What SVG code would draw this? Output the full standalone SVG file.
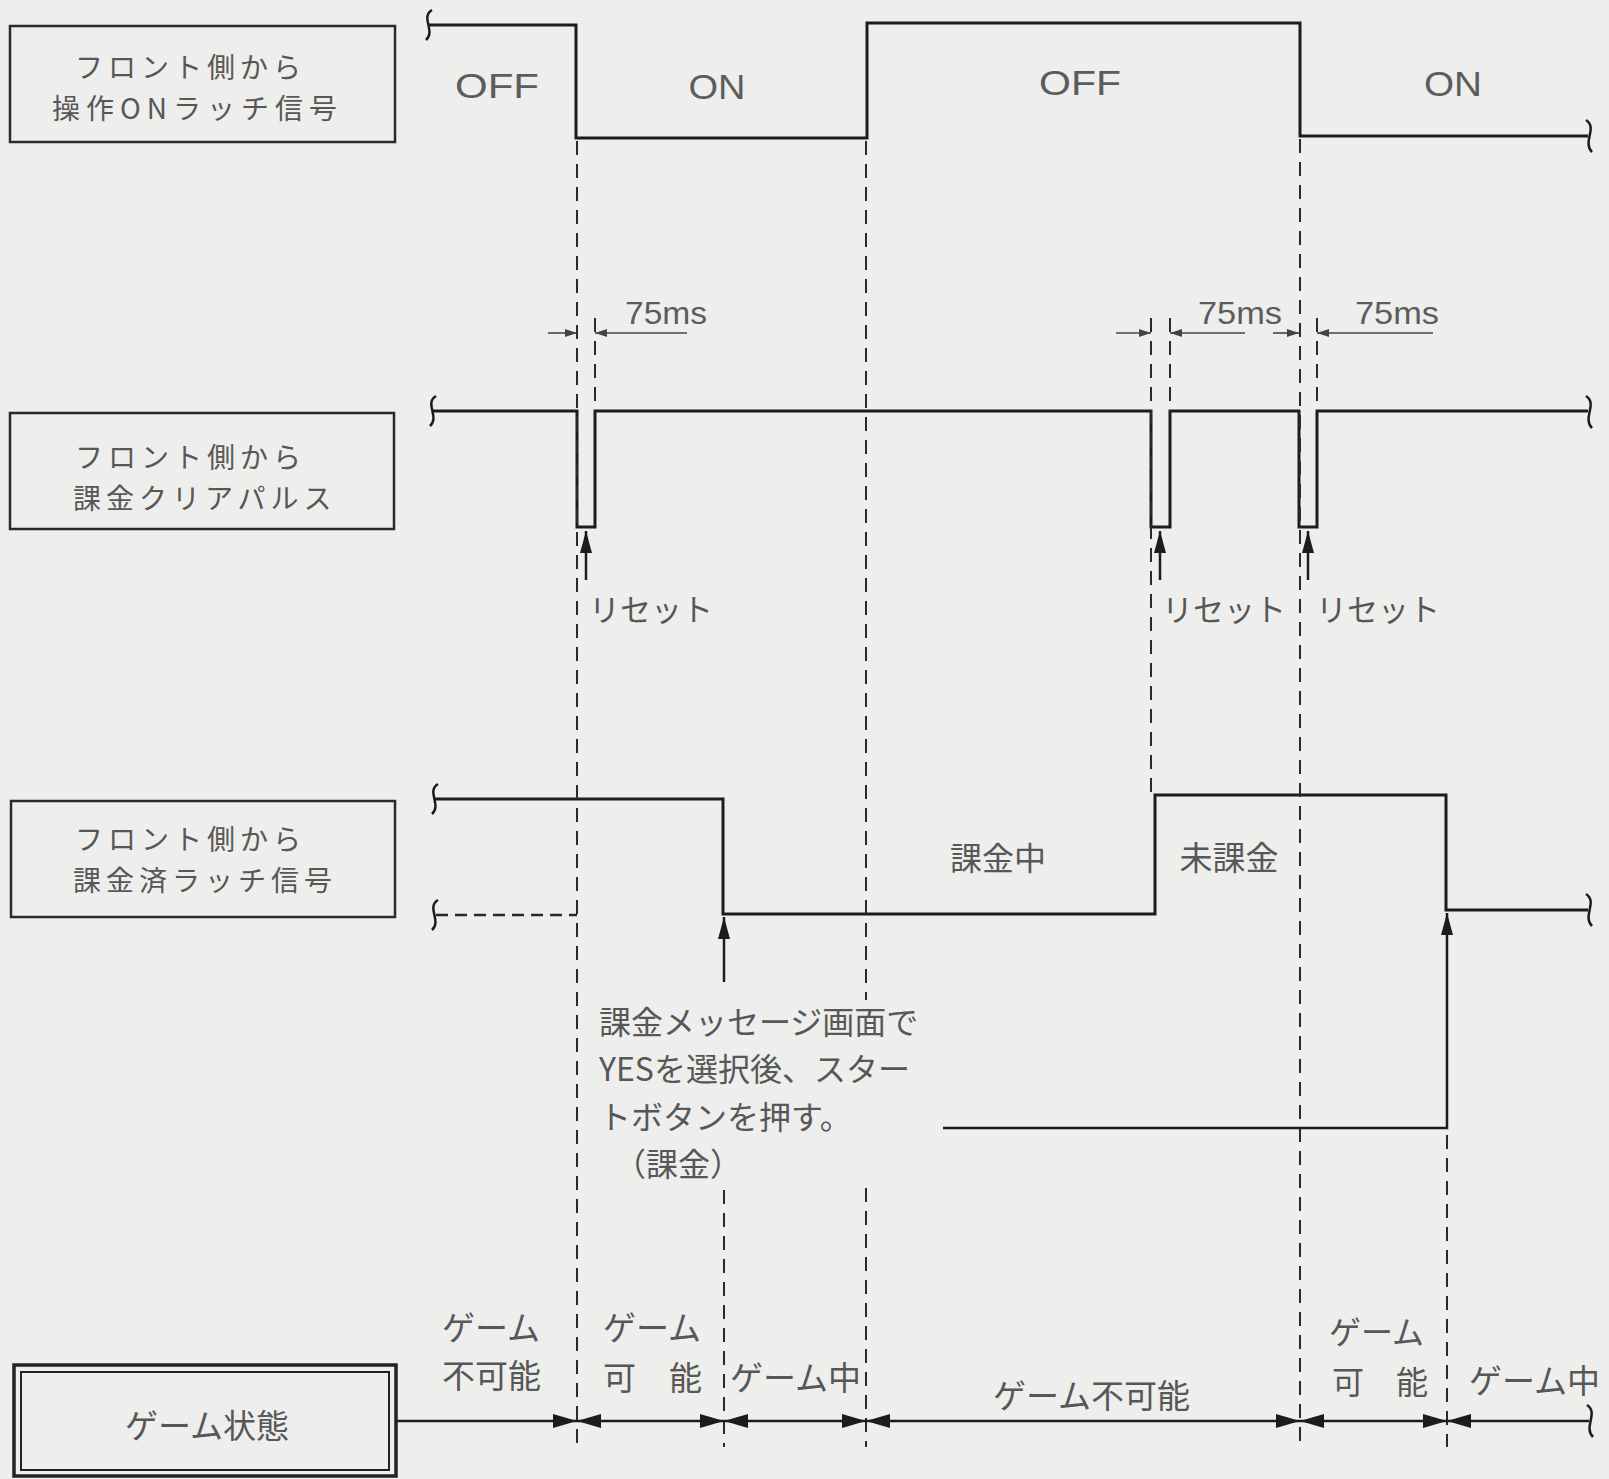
<svg xmlns="http://www.w3.org/2000/svg" width="1609" height="1479" viewBox="0 0 1609 1479">
<style>
.sig{fill:none;stroke:#1c1c1c;stroke-width:3;stroke-linejoin:miter}
.til{fill:none;stroke:#1c1c1c;stroke-width:2.5}
.dash{fill:none;stroke:#2a2a2a;stroke-width:2;stroke-dasharray:14 9}
.hdash{fill:none;stroke:#2a2a2a;stroke-width:2.5;stroke-dasharray:12 7}
.box{fill:none;stroke:#2a2a2a;stroke-width:2.5}
.jp{font-family:"Noto Sans CJK JP","Noto Sans CJK SC",sans-serif;font-size:33px;fill:#575757}
.bx{font-family:"Noto Sans CJK JP","Noto Sans CJK SC",sans-serif;font-size:28px;letter-spacing:5px;fill:#575757}
.lat{font-family:"Liberation Sans",Arial,sans-serif;fill:#5c5c5c}
.dim{fill:none;stroke:#444;stroke-width:1.6}
.arr{fill:none;stroke:#1c1c1c;stroke-width:2.5}
</style>
<defs>
<marker id="ah" viewBox="0 0 24 14" refX="24" refY="7" markerWidth="24" markerHeight="14" markerUnits="userSpaceOnUse" orient="auto-start-reverse">
<path d="M0,0 L24,7 L0,14 z" fill="#1c1c1c"/>
</marker>
<marker id="up" viewBox="0 0 22 12" refX="22" refY="6" markerWidth="22" markerHeight="12" markerUnits="userSpaceOnUse" orient="auto">
<path d="M0,0 L22,6 L0,12 z" fill="#1c1c1c"/>
</marker>
<marker id="dm" viewBox="0 0 12 8" refX="12" refY="4" markerWidth="12" markerHeight="8" markerUnits="userSpaceOnUse" orient="auto">
<path d="M0,0 L12,4 L0,8 z" fill="#444"/>
</marker>
</defs>
<rect width="1609" height="1479" fill="#eeeeed"/>

<g id="node-latch-on">
<rect class="box" x="10" y="26" width="385" height="116"/>
<text class="bx" x="75" y="78">フロント側から</text>
<text class="bx" x="52" y="119" style="letter-spacing:6px">操作ONラッチ信号</text>
</g>
<g id="node-clear-pulse">
<rect class="box" x="10" y="413" width="384" height="116"/>
<text class="bx" x="75" y="468">フロント側から</text>
<text class="bx" x="73" y="509">課金クリアパルス</text>
</g>
<g id="node-paid-latch">
<rect class="box" x="11" y="801" width="384" height="116"/>
<text class="bx" x="75" y="850">フロント側から</text>
<text class="bx" x="73" y="891">課金済ラッチ信号</text>
</g>
<g id="node-game-state">
<rect x="14" y="1365" width="382" height="111" fill="none" stroke="#222" stroke-width="3.5"/>
<rect x="21" y="1372" width="368" height="98" fill="none" stroke="#222" stroke-width="2"/>
<text class="jp" x="207" y="1438" text-anchor="middle">ゲーム状態</text>
</g>

<g id="connectors">
<path class="sig" d="M429 25 H576 V138 H867 V23 H1300 V136 H1588"/>
<path class="til" d="M432 10 C420 17,436 31,426 40"/>
<path class="til" d="M1586 120 C1598 128,1582 142,1592 152"/>
<path class="sig" d="M433 411 H577 V527 H595 V411 H1151 V527 H1170 V411 H1299 V527 H1317 V411 H1588"/>
<path class="til" d="M436 396 C424 403,440 417,430 426"/>
<path class="til" d="M1586 396 C1598 404,1582 418,1592 428"/>
<path class="sig" d="M435 799 H723 V914 H1155 V795 H1446 V910 H1588"/>
<path class="hdash" d="M436 915 H577"/>
<path class="til" d="M438 784 C426 791,442 805,432 814"/>
<path class="til" d="M438 900 C426 907,442 921,432 930"/>
<path class="til" d="M1586 894 C1598 902,1582 916,1592 926"/>

<path class="dash" d="M577 141 V1447"/>
<path class="dash" d="M595 318 V411"/>
<path class="dash" d="M866 141 V1000 M866 1188 V1447"/>
<path class="dash" d="M724 1190 V1447"/>
<path class="dash" d="M1151 318 V795"/>
<path class="dash" d="M1170 318 V411"/>
<path class="dash" d="M1300 139 V1447"/>
<path class="dash" d="M1317 318 V411"/>
<path class="dash" d="M1447 1135 V1447"/>

<line class="dim" x1="548" y1="333" x2="577" y2="333" marker-end="url(#dm)"/>
<line class="dim" x1="687" y1="333" x2="595" y2="333" marker-end="url(#dm)"/>
<line class="dim" x1="1116" y1="333" x2="1151" y2="333" marker-end="url(#dm)"/>
<line class="dim" x1="1245" y1="333" x2="1170" y2="333" marker-end="url(#dm)"/>
<line class="dim" x1="1273" y1="333" x2="1299" y2="333" marker-end="url(#dm)"/>
<line class="dim" x1="1433" y1="333" x2="1317" y2="333" marker-end="url(#dm)"/>

<line class="arr" x1="586" y1="580" x2="586" y2="531" marker-end="url(#up)"/>
<line class="arr" x1="1160" y1="580" x2="1160" y2="531" marker-end="url(#up)"/>
<line class="arr" x1="1308" y1="580" x2="1308" y2="531" marker-end="url(#up)"/>
<line class="arr" x1="724" y1="982" x2="724" y2="917" marker-end="url(#up)"/>
<path class="arr" d="M943 1128 H1447 V913" marker-end="url(#up)"/>

<line class="arr" x1="396" y1="1421" x2="577" y2="1421" marker-end="url(#ah)"/>
<line class="arr" x1="577" y1="1421" x2="724" y2="1421" marker-start="url(#ah)" marker-end="url(#ah)"/>
<line class="arr" x1="724" y1="1421" x2="866" y2="1421" marker-start="url(#ah)" marker-end="url(#ah)"/>
<line class="arr" x1="866" y1="1421" x2="1300" y2="1421" marker-start="url(#ah)" marker-end="url(#ah)"/>
<line class="arr" x1="1300" y1="1421" x2="1447" y2="1421" marker-start="url(#ah)" marker-end="url(#ah)"/>
<line class="arr" x1="1447" y1="1421" x2="1589" y2="1421" marker-start="url(#ah)"/>
<path class="til" d="M1587 1405 C1599 1413,1583 1427,1593 1437"/>
</g>

<g id="labels">
<text class="lat" x="497" y="98" font-size="35" text-anchor="middle" textLength="84" lengthAdjust="spacingAndGlyphs">OFF</text>
<text class="lat" x="717" y="99" font-size="35" text-anchor="middle" textLength="57" lengthAdjust="spacingAndGlyphs">ON</text>
<text class="lat" x="1080" y="95" font-size="35" text-anchor="middle" textLength="82" lengthAdjust="spacingAndGlyphs">OFF</text>
<text class="lat" x="1453" y="96" font-size="35" text-anchor="middle" textLength="58" lengthAdjust="spacingAndGlyphs">ON</text>

<text class="lat" x="666" y="324" font-size="31" text-anchor="middle" textLength="82" lengthAdjust="spacingAndGlyphs">75ms</text>
<text class="lat" x="1240" y="324" font-size="31" text-anchor="middle" textLength="84" lengthAdjust="spacingAndGlyphs">75ms</text>
<text class="lat" x="1397" y="324" font-size="31" text-anchor="middle" textLength="84" lengthAdjust="spacingAndGlyphs">75ms</text>

<text class="jp" x="589" y="621" style="font-size:31px">リセット</text>
<text class="jp" x="1162" y="621" style="font-size:31px">リセット</text>
<text class="jp" x="1316" y="621" style="font-size:31px">リセット</text>

<text class="jp" x="998" y="870" text-anchor="middle" style="font-size:32px">課金中</text>
<text class="jp" x="1229" y="870" text-anchor="middle" style="font-size:33px">未課金</text>

<text class="jp" x="599" y="1034" style="font-size:32px">課金メッセージ画面で</text>
<text class="jp" x="599" y="1081" style="font-size:32px">YESを選択後、スター</text>
<text class="jp" x="599" y="1129" style="font-size:32px">トボタンを押す。</text>
<text class="jp" x="614" y="1176" style="font-size:32px">（課金）</text>

<text class="jp" x="442" y="1340">ゲーム</text>
<text class="jp" x="442" y="1388">不可能</text>
<text class="jp" x="603" y="1340">ゲーム</text>
<text class="jp" x="603" y="1390">可　能</text>
<text class="jp" x="730" y="1390">ゲーム中</text>
<text class="jp" x="993" y="1408">ゲーム不可能</text>
<text class="jp" x="1329" y="1344" style="font-size:32px">ゲーム</text>
<text class="jp" x="1332" y="1394" style="font-size:32px">可　能</text>
<text class="jp" x="1469" y="1393">ゲーム中</text>
</g>
</svg>
